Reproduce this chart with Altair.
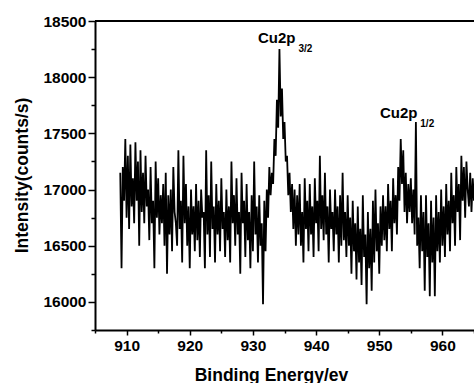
import altair as alt
import pandas as pd

# Binding energy sampling (eV)
e_start = 909.0
e_step = 0.2

# Intensity values (counts/s)
intensity = [
    17150, 16300, 17200, 16900, 17450, 16750, 17300, 16650, 17400, 16850,
    17100, 16700, 17420, 16900, 17250, 16500, 17350, 16800, 17150, 16700,
    17300, 16850, 17000, 16550, 17200, 16700, 16900, 16300, 17250, 16750,
    17100, 16600, 16950, 16700, 17050, 16500, 17150, 16250, 16950, 16600,
    17000, 16450, 17200, 16800, 16700, 16500, 17350, 16650, 16900, 16350,
    17300, 16700, 17050, 16500, 16850, 16300, 17000, 16600, 16850, 16450,
    17050, 16550, 16900, 16400, 17000, 16750, 16800, 16300, 17350, 16600,
    16950, 16400, 17250, 16650, 16850, 16350, 17050, 16600, 16900, 16450,
    17100, 16650, 16800, 16400, 17000, 16550, 16850, 16350, 17250, 16700,
    16950, 16500, 17100, 16600, 16800, 16250, 17150, 16700, 16900, 16400,
    17050, 16550, 16800, 16300, 16950, 16450, 17250, 16600, 16850, 16350,
    16950, 16500, 16700, 15980, 16900, 16450, 17000, 16750, 17200, 16950,
    17150, 17050, 17450, 17300, 17800, 17550, 18250, 17650, 17900, 17450,
    17600, 17250, 17300, 16950, 17150, 16800, 17050, 16650, 17000, 16500,
    16950, 16600, 17050, 16500, 16800, 16350, 17100, 16650, 16900, 16450,
    17050, 16600, 16850, 16400, 17100, 16700, 16900, 16450, 17300, 16650,
    16950, 16550, 17150, 16600, 16850, 16350, 17000, 16650, 16800, 16450,
    17000, 16600, 16850, 16350, 16950, 16500, 17150, 16550, 16800, 16400,
    16950, 16500, 16750, 16250, 16900, 16450, 16700, 16200, 16850, 16350,
    16650, 16150, 16950, 16400, 16600, 15980, 16800, 16300, 16650, 16100,
    16900, 16350, 17000, 16450, 16700, 16250, 16850, 16500, 16950, 16550,
    16850, 16450, 17050, 16650, 16900, 16450, 17100, 16700, 16950, 16600,
    17200, 16900, 17450, 17050, 17350, 16800, 17150, 16700, 17050, 16800,
    17100, 16700, 17000, 16600, 17600, 16500, 16750, 16300, 16950, 16450,
    16800, 16100, 16950, 16400, 16700, 16050, 16900, 16350, 16750, 16050,
    16950, 16450, 16800, 16350, 17000, 16500, 16850, 16400, 17050, 16600,
    16900, 16450, 17150, 16700, 16950, 16500, 17200, 16800, 17050, 16550,
    17300, 16900, 17200, 16750, 17250, 17000, 16850, 17150, 16800, 17100,
    16900,
]
energy = [round(e_start + i * e_step, 1) for i in range(len(intensity))]

# Axis tick values
x_major = list(range(910, 961, 10))
x_minor = list(range(905, 966, 10))
y_major = list(range(16000, 18501, 500))
y_minor = list(range(15750, 18501, 500))

# Peak labels
label_main = ["Cu2p", "Cu2p"]
label_sub = ["3/2", "1/2"]
label_x = [930.8, 950.1]
label_y = [18304, 17637]
sub_x = [937.2, 956.5]
sub_y = [18220, 17560]

df = pd.DataFrame({"energy": energy, "intensity": intensity})
lab = pd.DataFrame({"t": label_main, "x": label_x, "y": label_y})
sub = pd.DataFrame({"t": label_sub, "x": sub_x, "y": sub_y})

FONT = "Liberation Sans"
W, H = 379, 309

xscale = alt.Scale(domain=[905, 965], nice=False, zero=False)
yscale = alt.Scale(domain=[15750, 18500], nice=False, zero=False)

xaxis = alt.Axis(
    orient="bottom",
    values=x_major,
    format="d",
    tickSize=5,
    labelPadding=3,
    title="Binding Energy/ev",
    titleX=176,
    titleY=36,
    titleBaseline="top",
    titleAlign="center",
)
yaxis = alt.Axis(
    orient="left",
    values=y_major,
    format="d",
    tickSize=7,
    labelPadding=2,
    title="Intensity(counts/s)",
    titleX=-73,
    titleY=154,
    titleBaseline="middle",
    titleAlign="center",
)
xaxis_minor = alt.Axis(orient="bottom", values=x_minor, tickSize=3, labels=False,
                       domain=False, title=None)
yaxis_minor = alt.Axis(orient="left", values=y_minor, tickSize=4, labels=False,
                       domain=False, title=None)

line = alt.Chart(df).mark_line(color="black", strokeWidth=1.8, clip=True).encode(
    x=alt.X("energy:Q", scale=xscale, axis=xaxis),
    y=alt.Y("intensity:Q", scale=yscale, axis=yaxis),
)

minor = alt.Chart(df).mark_point(opacity=0, clip=True).encode(
    x=alt.X("energy:Q", scale=xscale, axis=xaxis_minor),
    y=alt.Y("intensity:Q", scale=yscale, axis=yaxis_minor),
)

top = alt.Chart(df).mark_rule(color="black", strokeWidth=2).encode(
    x=alt.value(0), x2=alt.value(W), y=alt.value(0)
)

main_txt = alt.Chart(lab).mark_text(
    font=FONT, fontWeight="bold", fontSize=15, align="left", baseline="alphabetic", color="black"
).encode(
    x=alt.X("x:Q", scale=xscale, axis=None), y=alt.Y("y:Q", scale=yscale, axis=None), text="t:N"
)
sub_txt = alt.Chart(sub).mark_text(
    font=FONT, fontWeight="bold", fontSize=10, align="left", baseline="alphabetic", color="black"
).encode(
    x=alt.X("x:Q", scale=xscale, axis=None), y=alt.Y("y:Q", scale=yscale, axis=None), text="t:N"
)

chart = alt.layer(line, minor, top, main_txt, sub_txt).resolve_axis(
    x="independent", y="independent"
).properties(
    width=W, height=H,
    autosize=alt.AutoSizeParams(type="none"),
    padding={"left": 95, "top": 21, "right": 0, "bottom": 53},
    background="white",
).configure_view(stroke=None).configure_axis(
    grid=False,
    domainColor="black",
    domainWidth=2,
    tickColor="black",
    tickWidth=1.5,
    labelFont=FONT,
    labelFontWeight="bold",
    labelFontSize=15.5,
    labelColor="black",
    titleFont=FONT,
    titleFontWeight="bold",
    titleFontSize=17.5,
    titleColor="black",
)

chart.save("out.html", embed_options={"renderer": "svg", "actions": False})
